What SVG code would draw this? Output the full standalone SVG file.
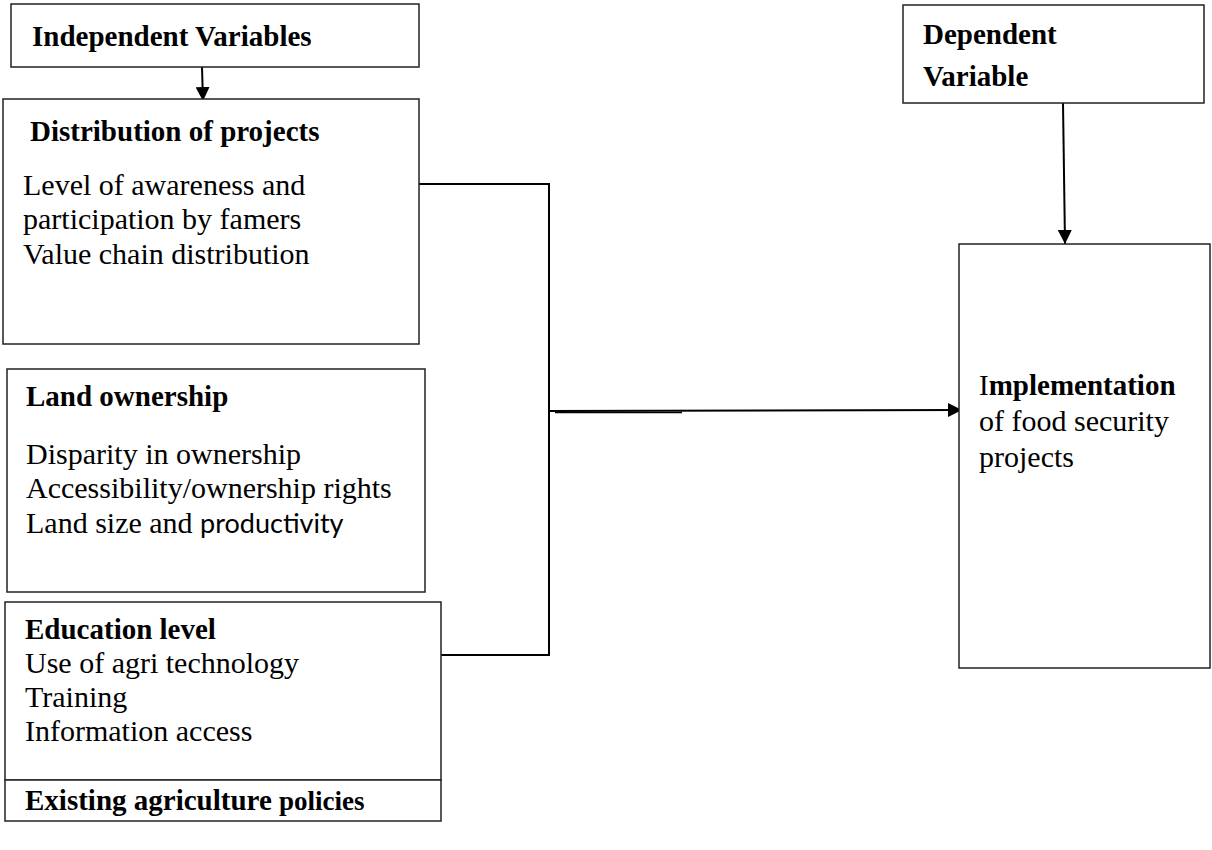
<svg xmlns="http://www.w3.org/2000/svg" width="1212" height="850" viewBox="0 0 1212 850">
<style>
.box{fill:#fff;stroke:#222;stroke-width:1.5}
.h{font-family:"Liberation Serif","Times New Roman",serif;font-weight:bold;font-size:29px;fill:#000}
.t{font-family:"Liberation Serif","Times New Roman",serif;font-size:30px;fill:#000}
.c{fill:none;stroke:#000;stroke-width:2}
</style>
<defs>
<marker id="arr" viewBox="0 0 14 14" refX="14" refY="7" markerWidth="14" markerHeight="14" markerUnits="userSpaceOnUse" orient="auto">
<path d="M0,0 L14,7 L0,14 Z" fill="#000"/>
</marker>
</defs>
<rect width="1212" height="850" fill="#fff"/>
<g id="connectors">
<line class="c" x1="202" y1="67" x2="203" y2="101" marker-end="url(#arr)"/>
<line class="c" x1="1063" y1="103" x2="1065" y2="244" marker-end="url(#arr)"/>
<path class="c" d="M419,184 H549 V655 H432"/>
<line class="c" x1="549" y1="411" x2="962" y2="410" marker-end="url(#arr)"/>
<line x1="555" y1="412.5" x2="682" y2="412.5" stroke="#000" stroke-width="1.5"/>
</g>
<g id="independent">
<rect class="box" x="11" y="4" width="408" height="63"/>
<text class="h" x="32" y="46" font-size="30.5">Independent Variables</text>
</g>
<g id="distribution">
<rect class="box" x="3" y="99" width="416" height="245"/>
<text class="h" x="30" y="141">Distribution of projects</text>
<text class="t" x="23" y="195">Level of awareness and</text>
<text class="t" x="23" y="229">participation by famers</text>
<text class="t" x="23" y="264">Value chain distribution</text>
</g>
<g id="land">
<rect class="box" x="7" y="369" width="418" height="223"/>
<text class="h" x="26" y="406">Land ownership</text>
<text class="t" x="26" y="464">Disparity in ownership</text>
<text class="t" x="26" y="498">Accessibility/ownership rights</text>
<text class="t" x="26" y="533">Land size and <tspan font-family="Lato, 'Liberation Sans', sans-serif" font-size="27">productivity</tspan></text>
</g>
<g id="education">
<rect class="box" x="5" y="602" width="436" height="178"/>
<text class="h" x="25" y="639">Education level</text>
<text class="t" x="25" y="673">Use of agri technology</text>
<text class="t" x="25" y="707">Training</text>
<text class="t" x="25" y="741">Information access</text>
</g>
<g id="policies">
<rect class="box" x="5" y="780" width="436" height="41"/>
<text class="h" x="25" y="810" font-size="30">Existing agriculture <tspan font-size="27">policies</tspan></text>
</g>
<g id="dependent">
<rect class="box" x="903" y="5" width="301" height="98"/>
<text class="h" x="923" y="44" font-size="32">Dependent</text>
<text class="h" x="923" y="86" font-size="28.5">Variable</text>
</g>
<g id="implementation">
<rect class="box" x="959" y="244" width="251" height="424"/>
<text class="h" x="979" y="395"><tspan font-weight="normal">I</tspan>mplementation</text>
<text class="t" x="979" y="431">of food security</text>
<text class="t" x="979" y="467">projects</text>
</g>
</svg>
